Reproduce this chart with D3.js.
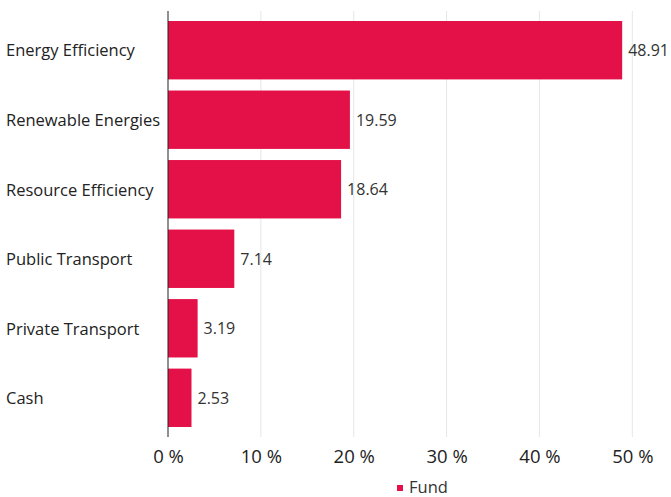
<!DOCTYPE html>
<html>
<head>
<meta charset="utf-8">
<script src="https://cdn.jsdelivr.net/npm/d3@7"></script>
<style>
  body { margin: 0; background: #fff; }
  text { font-family: "Open Sans", sans-serif; }
</style>
</head>
<body>
<script>
const categories = ["Energy Efficiency", "Renewable Energies", "Resource Efficiency",
                    "Public Transport", "Private Transport", "Cash"];
const values = [48.91, 19.59, 18.64, 7.14, 3.19, 2.53];
const xTicks = [0, 10, 20, 30, 40, 50];
const seriesName = "Fund";

const w = 671, h = 497;
const plotLeft = 168, plotRight = 632.3, plotTop = 11, plotBottom = 437;
const barColour = "#e31148";

const svg = d3.select("body").append("svg")
    .attr("width", w)
    .attr("height", h);

const xScale = d3.scaleLinear().domain([0, 50]).range([plotLeft, plotRight]);
const yScale = d3.scaleBand()
    .domain(categories)
    .range([plotTop, plotBottom])
    .paddingInner(0.16)
    .paddingOuter(0.144);

// grid lines
svg.append("g").selectAll("line")
    .data(xTicks.slice(1))
    .enter().append("line")
    .attr("x1", d => xScale(d)).attr("x2", d => xScale(d))
    .attr("y1", plotTop).attr("y2", plotBottom)
    .style("stroke", "#e6e6e6")
    .style("stroke-width", 1);

// bars
svg.append("g").selectAll("rect")
    .data(values)
    .enter().append("rect")
    .attr("x", xScale(0))
    .attr("y", (d, i) => yScale(categories[i]))
    .attr("width", d => xScale(d) - xScale(0))
    .attr("height", yScale.bandwidth())
    .style("fill", barColour);

// value labels
svg.append("g").selectAll("text")
    .data(values)
    .enter().append("text")
    .attr("x", d => xScale(d) + 6)
    .attr("y", (d, i) => yScale(categories[i]) + yScale.bandwidth() / 2)
    .attr("dy", "0.38em")
    .style("font-size", "16px")
    .style("fill", "#333")
    .text(d => d.toFixed(2));

// y axis (labels left aligned)
svg.append("g").selectAll("text")
    .data(categories)
    .enter().append("text")
    .attr("x", 6)
    .attr("y", d => yScale(d) + yScale.bandwidth() / 2)
    .attr("dy", "0.38em")
    .style("font-size", "16.5px")
    .style("fill", "#222")
    .text(d => d);

svg.append("line")
    .attr("x1", plotLeft).attr("x2", plotLeft)
    .attr("y1", plotTop).attr("y2", plotBottom)
    .style("stroke", "#222")
    .style("stroke-width", 1);

// x axis
const xAxis = d3.axisBottom(xScale)
    .tickValues(xTicks)
    .tickSize(0)
    .tickPadding(13)
    .tickFormat(d => d + " %");

const gx = svg.append("g")
    .attr("transform", "translate(0," + plotBottom + ")")
    .call(xAxis);
gx.select(".domain").remove();
gx.selectAll("text")
    .style("font-family", "'Open Sans', sans-serif")
    .style("font-size", "18.5px")
    .style("fill", "#222");

// legend
const legend = svg.append("g");
legend.append("rect")
    .attr("x", 397).attr("y", 485)
    .attr("width", 6).attr("height", 6)
    .style("fill", barColour);
legend.append("text")
    .attr("x", 409).attr("y", 493)
    .style("font-size", "16.5px")
    .style("fill", "#333")
    .text(seriesName);
</script>
</body>
</html>
